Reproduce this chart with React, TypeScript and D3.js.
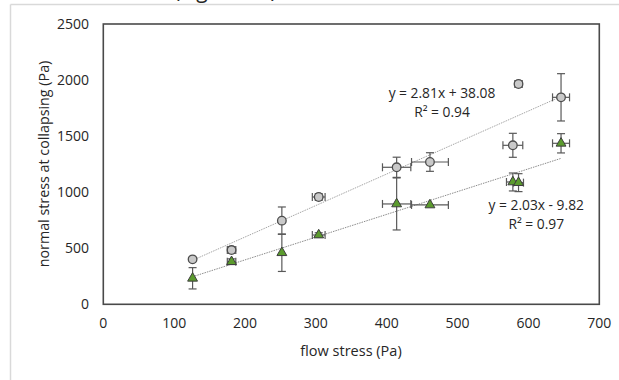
import React, { useRef, useEffect } from "react";
import * as d3 from "d3";

// series 1: circles
const circleX = [126, 181, 252, 304, 414, 461, 578, 586, 646];
const circleY = [401, 484, 746, 957, 1222, 1269, 1418, 1965, 1846];
const circleXErr = [0, 6, 0, 9, 20, 26, 14, 5, 12];
const circleYErr = [0, 30, 122, 30, 90, 83, 107, 28, 211];

// series 2: triangles
const triX = [126, 181, 252, 304, 414, 461, 578, 586, 646];
const triY = [232, 380, 460, 618, 895, 886, 1091, 1085, 1436];
const triXErr = [0, 6, 0, 9, 20, 26, 9, 7, 12];
const triYErr = [95, 25, 167, 20, 232, 0, 80, 80, 86];

const xTicks = [0, 100, 200, 300, 400, 500, 600, 700];
const yTicks = [0, 500, 1000, 1500, 2000, 2500];

// trendlines y = a*x + b
const fitCircle = { a: 2.81, b: 38.08, eq: "y = 2.81x + 38.08", r2: "R² = 0.94", lx: 478, ly: 1882 };
const fitTri = { a: 2.03, b: -9.82, eq: "y = 2.03x - 9.82", r2: "R² = 0.97", lx: 611, ly: 887 };

const App = () => {
    const ref = useRef<SVGSVGElement | null>(null);

    useEffect(() => {
        const font = "'Open Sans', 'Noto Sans', sans-serif";
        const ink = "#262626";
        const margin = { left: 103.3, right: 599.3, top: 24, bottom: 304.3 };

        const svg = d3.select(ref.current);
        svg.selectAll("*").remove();

        // chart area border (light gray, partially visible)
        svg.append("line").attr("x1", 10.5).attr("x2", 10.5).attr("y1", 4.5).attr("y2", 380)
            .attr("stroke", "#d9d9d9").attr("stroke-width", 1.5);
        svg.append("line").attr("x1", 10.5).attr("x2", 619).attr("y1", 4.5).attr("y2", 4.5)
            .attr("stroke", "#d9d9d9").attr("stroke-width", 1.5);

        // cut-off caption above the chart
        svg.append("text").attr("x", 174).attr("y", -2)
            .attr("font-family", font).attr("font-size", 21).attr("fill", ink)
            .text("(Figure 10)");

        const x = d3.scaleLinear().domain([0, 700]).range([margin.left, margin.right]);
        const y = d3.scaleLinear().domain([0, 2500]).range([margin.bottom, margin.top]);

        // tick labels
        svg.append("g").selectAll("text").data(yTicks).enter().append("text")
            .attr("x", 89).attr("y", (d) => y(d)).attr("dy", "0.35em")
            .attr("text-anchor", "end").attr("font-family", font).attr("font-size", 14)
            .attr("fill", ink).text((d) => d);
        svg.append("g").selectAll("text").data(xTicks).enter().append("text")
            .attr("x", (d) => x(d)).attr("y", 323).attr("dy", "0.35em")
            .attr("text-anchor", "middle").attr("font-family", font).attr("font-size", 14)
            .attr("fill", ink).text((d) => d);

        // axis titles
        svg.append("text").attr("x", 351).attr("y", 351).attr("dy", "0.35em")
            .attr("text-anchor", "middle").attr("font-family", font).attr("font-size", 14.5)
            .attr("fill", ink).text("flow stress (Pa)");
        svg.append("text").attr("transform", "translate(44,164) rotate(-90)").attr("dy", "0.35em")
            .attr("text-anchor", "middle").attr("font-family", font).attr("font-size", 14.3)
            .attr("fill", ink).text("normal stress at collapsing (Pa)");

        // trendlines
        const drawFit = (f: typeof fitCircle, xs: number[], color: string) => {
            const x0 = d3.min(xs)!;
            const x1 = d3.max(xs)!;
            svg.append("line")
                .attr("x1", x(x0)).attr("y1", y(f.a * x0 + f.b))
                .attr("x2", x(x1)).attr("y2", y(f.a * x1 + f.b))
                .attr("stroke", color).attr("stroke-width", 1).attr("stroke-dasharray", "1.5,1");
            const t = svg.append("text").attr("font-family", font).attr("font-size", 13.8)
                .attr("fill", ink).attr("text-anchor", "middle");
            t.append("tspan").attr("x", x(f.lx)).attr("y", y(f.ly)).attr("dy", "0.35em").text(f.eq);
            t.append("tspan").attr("x", x(f.lx)).attr("y", y(f.ly)).attr("dy", "1.75em").text(f.r2);
        };
        drawFit(fitCircle, circleX, "#a6a6a6");
        drawFit(fitTri, triX, "#8c8c8c");

        // error bars
        const cap = 4;
        const errG = svg.append("g").attr("stroke", "#595959").attr("stroke-width", 1.2).attr("fill", "none");
        const drawErr = (xs: number[], ys: number[], xe: number[], ye: number[]) => {
            xs.forEach((xv, i) => {
                const cx = x(xv);
                const cy = y(ys[i]);
                if (ye[i] > 0) {
                    const yt = y(ys[i] + ye[i]);
                    const yb = y(ys[i] - ye[i]);
                    errG.append("line").attr("x1", cx).attr("x2", cx).attr("y1", yt).attr("y2", yb);
                    errG.append("line").attr("x1", cx - cap).attr("x2", cx + cap).attr("y1", yt).attr("y2", yt);
                    errG.append("line").attr("x1", cx - cap).attr("x2", cx + cap).attr("y1", yb).attr("y2", yb);
                }
                if (xe[i] > 0) {
                    const xl = x(xv - xe[i]);
                    const xr = x(xv + xe[i]);
                    errG.append("line").attr("x1", xl).attr("x2", xr).attr("y1", cy).attr("y2", cy);
                    errG.append("line").attr("x1", xl).attr("x2", xl).attr("y1", cy - cap).attr("y2", cy + cap);
                    errG.append("line").attr("x1", xr).attr("x2", xr).attr("y1", cy - cap).attr("y2", cy + cap);
                }
            });
        };
        drawErr(circleX, circleY, circleXErr, circleYErr);
        drawErr(triX, triY, triXErr, triYErr);

        // markers
        svg.append("g").selectAll("circle").data(d3.range(circleX.length)).enter().append("circle")
            .attr("cx", (i) => x(circleX[i])).attr("cy", (i) => y(circleY[i])).attr("r", 4.3)
            .attr("fill", "#c9c9c9").attr("stroke", "#4d4d4d").attr("stroke-width", 1.3);
        const tri = d3.symbol().type(d3.symbolTriangle).size(42);
        svg.append("g").selectAll("path").data(d3.range(triX.length)).enter().append("path")
            .attr("transform", (i) => `translate(${x(triX[i])},${y(triY[i])})`)
            .attr("d", tri as any)
            .attr("fill", "#5b9b2d").attr("stroke", "#3d3d3d").attr("stroke-width", 1);

        // plot area border
        svg.append("rect").attr("x", margin.left).attr("y", margin.top)
            .attr("width", margin.right - margin.left).attr("height", margin.bottom - margin.top)
            .attr("fill", "none").attr("stroke", "#4a4a4a").attr("stroke-width", 1.6);
    }, []);

    return (
        <svg
            ref={ref}
            width={619}
            height={380}
            style={{ position: "absolute", left: 0, top: 0, background: "#fff" }}
        />
    );
};

export default App;
